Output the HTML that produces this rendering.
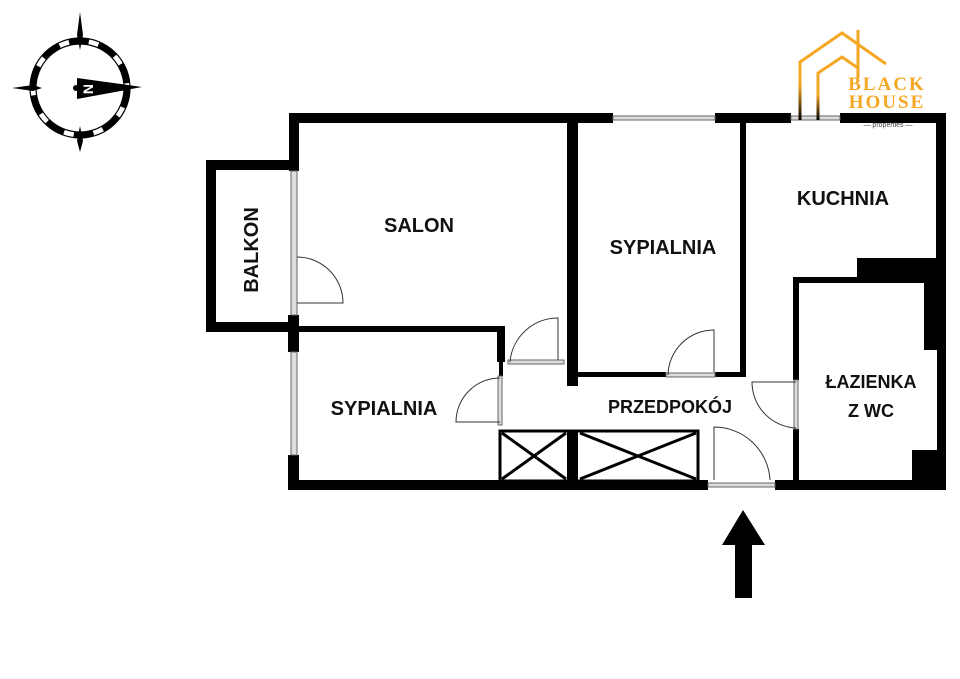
<!DOCTYPE html>
<html><head><meta charset="utf-8"><style>body{margin:0;background:#fff}svg{display:block}text{font-family:"Liberation Sans",sans-serif;font-weight:bold;fill:#111}</style></head><body>
<svg width="960" height="679" viewBox="0 0 960 679">
<defs><linearGradient id="g" x1="0" y1="0" x2="0" y2="1"><stop offset="0.6" stop-color="#f5a623"/><stop offset="1" stop-color="#000"/></linearGradient></defs>
<g fill="#000">
<rect x="289" y="113" width="324" height="10"/>
<rect x="715" y="113" width="76" height="10"/>
<rect x="840" y="113" width="106" height="10"/>
<rect x="289" y="113" width="10" height="58"/>
<rect x="206" y="160" width="93" height="10"/>
<rect x="206" y="160" width="10" height="172"/>
<rect x="206" y="322" width="93" height="10"/>
<rect x="288" y="315" width="11" height="37"/>
<rect x="280" y="326" width="225" height="6"/>
<rect x="497" y="326" width="8" height="36"/>
<rect x="499" y="360" width="4" height="16"/>
<rect x="288" y="455" width="11" height="35"/>
<rect x="288" y="480" width="420" height="10"/>
<rect x="775" y="480" width="171" height="10"/>
<rect x="567" y="430" width="11" height="50"/>
<rect x="567" y="113" width="11" height="273"/>
<rect x="740" y="123" width="6" height="254"/>
<rect x="578" y="372" width="88" height="5"/>
<rect x="715" y="372" width="31" height="5"/>
<rect x="936" y="113" width="10" height="150"/>
<rect x="857" y="258" width="89" height="22"/>
<rect x="793" y="277" width="140" height="6"/>
<rect x="924" y="277" width="22" height="73"/>
<rect x="937" y="340" width="9" height="140"/>
<rect x="912" y="450" width="34" height="40"/>
<rect x="793" y="277" width="6" height="103"/>
<rect x="793" y="429" width="6" height="55"/>
</g>
<g fill="#ddd" stroke="#666" stroke-width="1">
<rect x="613" y="116" width="102" height="4"/>
<rect x="791" y="116" width="49" height="4"/>
<rect x="291" y="171" width="6" height="144"/>
<rect x="291" y="352" width="6" height="103"/>
<rect x="708" y="483" width="67" height="4"/>
<rect x="508" y="360" width="56" height="4"/>
<rect x="666" y="373" width="49" height="4"/>
<rect x="498" y="376" width="4" height="49"/>
<rect x="794" y="380" width="4" height="49"/>
</g>
<g fill="none" stroke="#333" stroke-width="1">
<path d="M297 257 A46 46 0 0 1 343 303 L297 303"/>
<path d="M558 360 L558 318 A48 48 0 0 0 510 362"/>
<path d="M714 372 L714 330 A46 46 0 0 0 668 375"/>
<path d="M500 378 A44 44 0 0 0 456 422 L500 422"/>
<path d="M796 382 L752 382 A46 46 0 0 0 796 428"/>
<path d="M714 480 L714 427 A56 56 0 0 1 770 480"/>
<rect x="500" y="431" width="198" height="50" stroke="#000" stroke-width="3"/>
<path d="M502 433 L566 479 M566 433 L502 479 M580 433 L696 479 M696 433 L580 479" stroke="#000" stroke-width="3"/>
</g>
<path d="M743 510 L765 545 L752 545 L752 598 L735 598 L735 545 L722 545 Z" fill="#000"/>
<g>
<circle cx="80" cy="88" r="44" fill="none" stroke="#000" stroke-width="1.2"/>
<circle cx="80" cy="88" r="50" fill="none" stroke="#000" stroke-width="1.2"/>
<circle cx="80" cy="88" r="47" fill="none" stroke="#000" stroke-width="6" stroke-dasharray="20 10"/>
<path d="M77 35 L80 50 L83 35 L80 12 Z M77 141 L80 126 L83 141 L80 152 Z M33 85 L42 88 L33 91 L12 88Z" fill="#000"/>
<path d="M77 78 L142 87 L77 99 Z" fill="#000"/>
<circle cx="76" cy="88" r="3" fill="#000"/>
<text x="88" y="94" font-size="14" style="fill:#fff" transform="rotate(-90 88 89)" text-anchor="middle">N</text>
</g>
<g fill="none" stroke="url(#g)" stroke-width="3">
<path d="M800 120 L800 62 L842 33 L886 64"/>
<path d="M808 120 L808 77"/>
<path d="M818 120 L818 73 L842 57 L858 68"/>
</g>
<path d="M858 30 L858 78" stroke="#f5a623" stroke-width="3"/>
<text x="887" y="90" font-size="19" text-anchor="middle" style="fill:#f5a623;font-family:'Liberation Serif',serif;letter-spacing:2px">BLACK</text>
<text x="887" y="108" font-size="19" text-anchor="middle" style="fill:#f5a623;font-family:'Liberation Serif',serif;letter-spacing:2px">HOUSE</text>
<text x="888" y="127" font-size="7" text-anchor="middle" style="fill:#444;font-weight:normal">— properties —</text>
<text x="419" y="232" font-size="20" text-anchor="middle">SALON</text>
<text x="663" y="254" font-size="20" text-anchor="middle">SYPIALNIA</text>
<text x="843" y="205" font-size="20" text-anchor="middle">KUCHNIA</text>
<text x="871" y="388" font-size="18" text-anchor="middle">ŁAZIENKA</text>
<text x="871" y="417" font-size="18" text-anchor="middle">Z WC</text>
<text x="670" y="413" font-size="18" text-anchor="middle">PRZEDPOKÓJ</text>
<text x="384" y="415" font-size="20" text-anchor="middle">SYPIALNIA</text>
<text x="258" y="250" font-size="20" text-anchor="middle" transform="rotate(-90 258 250)">BALKON</text>
</svg>
</body></html>
